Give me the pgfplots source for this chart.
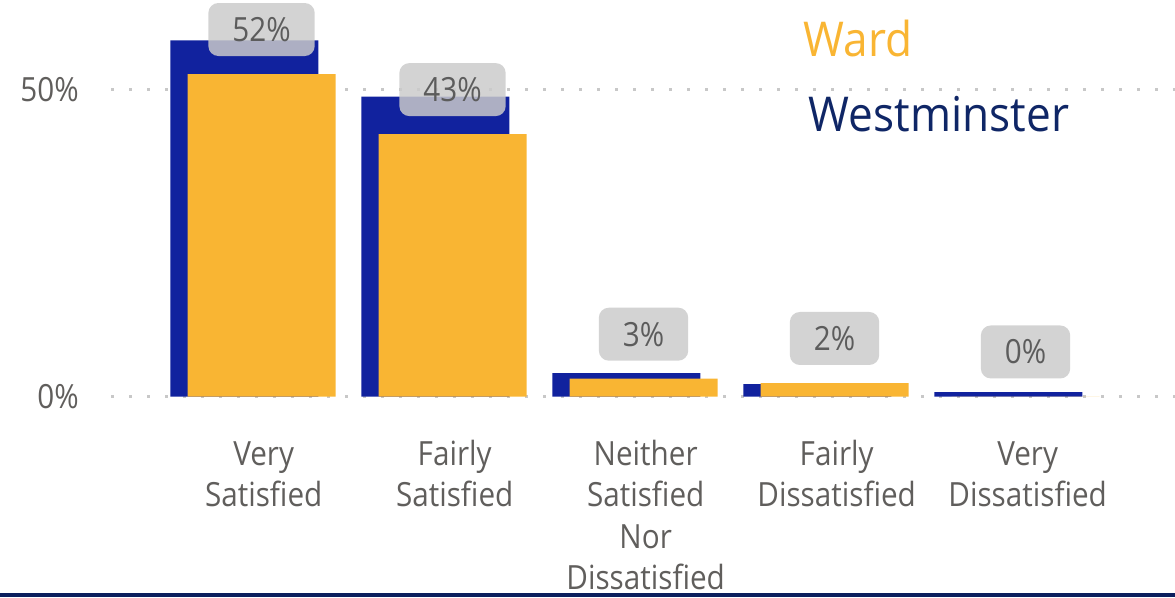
\documentclass[border=0pt]{standalone}
\usepackage{fontspec}
\setmainfont{Open Sans}[FakeStretch=0.92]
\newfontfamily\lblfont{Open Sans}[FakeStretch=0.89]
\usepackage{pgfplots}
\usepackage{pgfplotstable}
\pgfplotsset{compat=1.18}
\definecolor{wblue}{RGB}{17,34,158}
\definecolor{word}{RGB}{249,181,51}
\definecolor{navy}{RGB}{15,38,102}
\definecolor{txtgray}{RGB}{96,94,92}
\definecolor{lblgray}{RGB}{203,203,203}
\definecolor{lbltxt}{RGB}{92,92,92}
\definecolor{gridgray}{RGB}{200,200,200}
\definecolor{barline}{RGB}{11,31,94}

\pgfplotstableread{
x west ward label
0 58.1 52.6 52
1 48.9 42.8 43
2 3.8 2.9 3
3 2.0 2.2 2
4 0.7 0.0 0
}\datatable

\begin{document}
\begin{tikzpicture}[x=1pt,y=1pt]
\useasboundingbox (0,0) rectangle (881.25,447.75);
\begin{axis}[
  at={(81pt,150.375pt)}, anchor=south west,
  scale only axis, width=800.25pt, height=297.375pt,
  xmin=-0.7592, xmax=4.8272, ymin=0, ymax=64.68,
  clip=false,
  axis line style={draw=none},
  major tick style={draw=none},
  xtick={0,1,2,3,4},
  xticklabels={{\strut Very\\Satisfied},{\strut Fairly\\Satisfied},{\strut Neither\\Satisfied\\Nor\\Dissatisfied},{\strut Fairly\\Dissatisfied},{\strut Very\\Dissatisfied}},
  xticklabel style={align=center, anchor=north, inner sep=0pt, yshift=-29.6pt, xshift=8pt, font=\lblfont\fontsize{25}{31.1}\selectfont, text=txtgray},
  ytick={0,50}, yticklabels={0\%,50\%},
  yticklabel style={anchor=east, inner sep=0pt, xshift=-21.75pt, font=\lblfont\fontsize{25}{30}\selectfont, text=txtgray},
  ymajorgrids,
  grid style={gridgray, line width=2.25pt, dash pattern=on 2.25pt off 11.25pt, dash phase=-2.25pt},
]
\addplot[ybar, bar width=111pt, bar shift=-6.4pt, fill=wblue, draw=none] table[x=x,y=west]{\datatable};
\addplot[ybar, bar width=111pt, bar shift=6.4pt, fill=word, draw=none,
  nodes near coords={\pgfplotspointmeta\%}, point meta=explicit symbolic,
  every node near coord/.append style={anchor=center, xshift=6.4pt, yshift=33.4pt, fill=lblgray, fill opacity=0.84, text opacity=1, text=lbltxt, rounded corners=7.5pt, inner xsep=18pt, inner ysep=0pt, minimum height=39.75pt, font=\lblfont\fontsize{25}{30}\selectfont}
] table[x=x,y=ward,meta=label]{\datatable};
\end{axis}
\node[anchor=base west, inner sep=0pt, text=word, font=\fontsize{36}{40}\selectfont] at (602.5,405) {Ward};
\node[anchor=base west, inner sep=0pt, text=navy, font=\fontsize{36}{40}\selectfont] at (606.5,348.75) {Westminster};
\fill[barline] (0,0) rectangle (881.25,2.8);
\end{tikzpicture}
\end{document}
